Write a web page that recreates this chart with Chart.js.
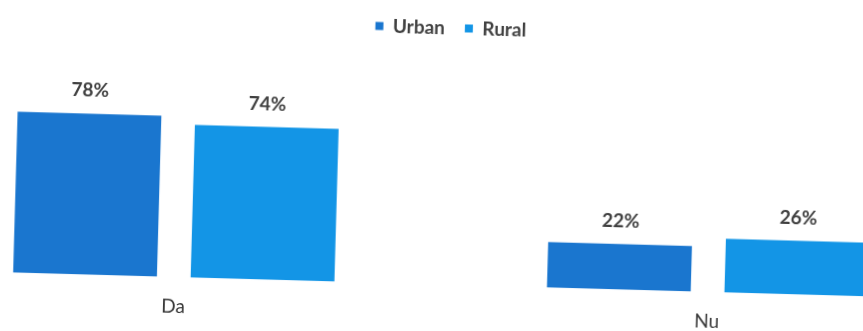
<html>
    <head>
        <script src="https://cdn.jsdelivr.net/npm/chart.js@4.4.1/dist/chart.umd.min.js"></script>
        <style>
            body { margin: 0; background: #fff; overflow: hidden; }
            #wrap { position: absolute; left: 0; top: 0; width: 863px; height: 331px; transform: rotate(1.6deg); transform-origin: 431px 165px; }
            #answers { position: absolute; left: -90px; top: 0; }
        </style>
    </head>
    <body>
        <div id="wrap">
            <canvas id="answers" width="1074" height="343"></canvas>
        </div>
        <script>
            const CATEGORIES = ["Da", "Nu"];
            const URBAN = [78, 22];
            const RURAL = [74, 26];

            const TEXT = "#404040";
            const FONT = "Lato";

            // percentage above each bar, placed from the bar element itself
            const valueLabels = {
                id: "valueLabels",
                afterDatasetsDraw(chart) {
                    const ctx = chart.ctx;
                    ctx.save();
                    ctx.font = "bold 19px " + FONT;
                    ctx.fillStyle = TEXT;
                    ctx.textAlign = "center";
                    ctx.textBaseline = "middle";
                    chart.data.datasets.forEach((ds, i) => {
                        chart.getDatasetMeta(i).data.forEach((bar, j) => {
                            ctx.fillText(ds.data[j] + "%", bar.x, bar.y - 23);
                        });
                    });
                    ctx.restore();
                }
            };

            // extra room between legend and plot
            const legendGap = {
                id: "legendGap",
                beforeInit(chart) {
                    const fit = chart.legend.fit;
                    chart.legend.fit = function() {
                        fit.bind(chart.legend)();
                        this.height += 31;
                    };
                }
            };

            new Chart(document.getElementById("answers"), {
                type: "bar",
                data: {
                    labels: CATEGORIES,
                    datasets: [
                        { label: "Urban", data: URBAN, backgroundColor: "#1a76cf" },
                        { label: "Rural", data: RURAL, backgroundColor: "#1395e6" }
                    ]
                },
                options: {
                    responsive: false,
                    animation: false,
                    categoryPercentage: 0.665,
                    barPercentage: 0.81,
                    layout: { padding: { top: -2, bottom: 0 } },
                    plugins: {
                        tooltip: { enabled: false },
                        legend: {
                            position: "top",
                            labels: {
                                boxWidth: 8,
                                boxHeight: 8,
                                padding: 20,
                                color: TEXT,
                                font: { family: FONT, size: 19, weight: "bold" }
                            }
                        }
                    },
                    scales: {
                        x: {
                            grid: { display: false, drawTicks: false },
                            border: { display: false },
                            ticks: { color: "#383838", padding: 18, font: { family: FONT, size: 19 } }
                        },
                        y: {
                            position: "right",
                            min: 0,
                            max: 100,
                            grid: { display: false, drawTicks: false },
                            border: { display: false },
                            ticks: { display: false },
                            afterFit(scale) { scale.width = 6; }
                        }
                    }
                },
                plugins: [valueLabels, legendGap]
            });
        </script>
    </body>
</html>
